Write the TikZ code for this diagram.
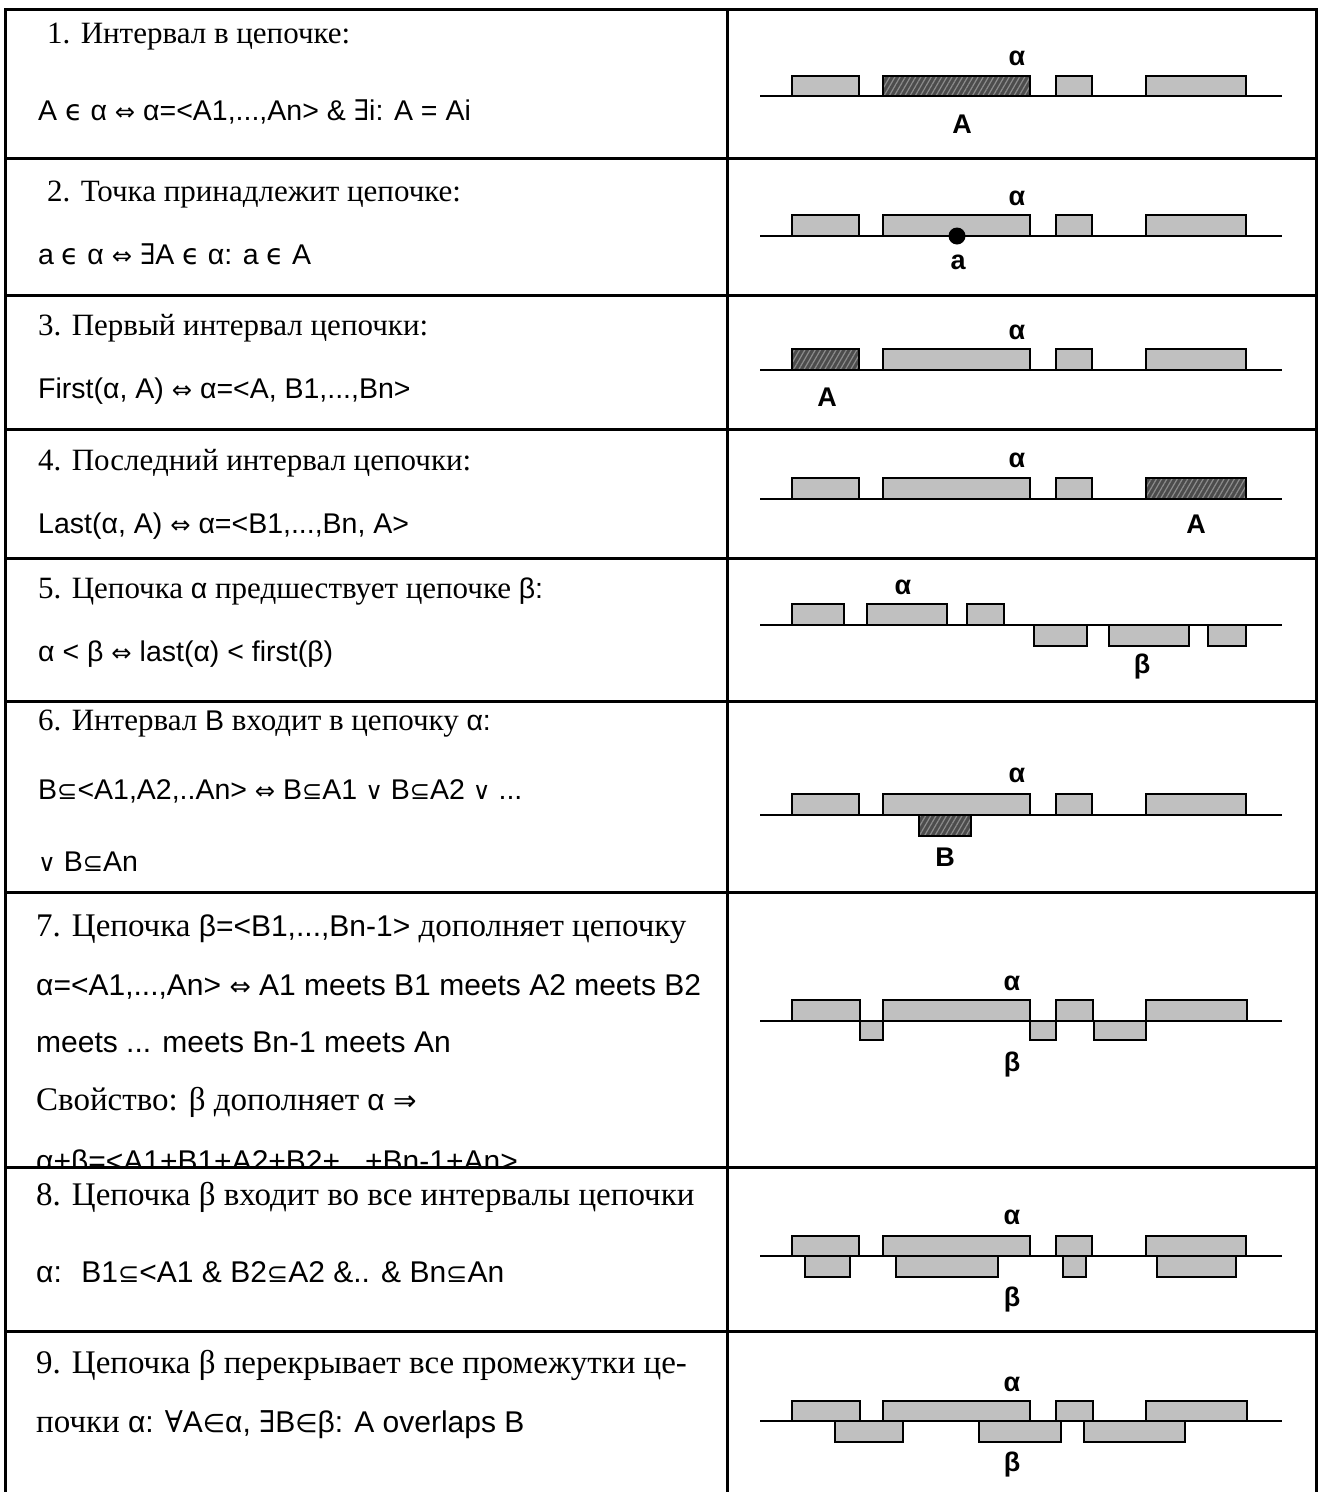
\documentclass[tikz,border=0pt]{standalone}
\usepackage{fontspec}
\setmainfont{Liberation Serif}
\setsansfont{Liberation Sans}
\newfontfamily\symf{DejaVu Sans}[Scale=0.85]
\newfontfamily\symfull{DejaVu Sans}
\newfontfamily\symserif{DejaVu Serif}
\usetikzlibrary{patterns.meta}
\newcommand\RMS{\rmfamily\fontsize{31}{37}\selectfont}
\newcommand\RMB{\rmfamily\fontsize{33}{39}\selectfont}
\newcommand\SF[1]{{\sffamily\fontsize{28.5}{34}\selectfont #1}}
\newcommand\SFB[1]{{\sffamily\fontsize{30}{36}\selectfont #1}}
\newcommand\SY[1]{{\symf #1}}
\newcommand\SYE[1]{{\symfull #1}}
\newcommand\SYS[1]{{\symserif #1}}
\newcommand\LBF{\sffamily\bfseries\fontsize{27}{30}\selectfont}
\definecolor{barfill}{HTML}{C0C0C0}
\tikzset{
  tline/.style={line width=3pt, line cap=rect},
  bar/.style={draw=black, line width=1.6pt, fill=barfill},
  hbar/.style={draw=black, line width=1.6pt, preaction={fill=black!70},
    pattern={Lines[angle=60,distance=4.5pt,line width=1.2pt]}, pattern color=black!45},
  baseln/.style={line width=2.6pt},
  tx/.style={anchor=base west, inner sep=0pt, font=\RMS},
  txb/.style={anchor=base west, inner sep=0pt, font=\RMB},
  lbl/.style={inner sep=0pt, font=\LBF},
}
\begin{document}
\begin{tikzpicture}[x=1pt,y=-1pt]
\useasboundingbox (0,0) rectangle (1318,1492);
\fill[white] (0,0) rectangle (1318,1492);

% ---------- left column texts ----------
\node[tx] (t1a) at (47,43) {1. Интервал в цепочке:};
\node[tx] (t1b) at (38,120) {\SF{A \SYE{ϵ} α \SY{⇔} α=<A1,...,An> \& \SYS{∃}i: A = Ai}};

\node[tx] (t2a) at (47,201) {2. Точка принадлежит цепочке:};
\node[tx] (t2b) at (38,264) {\SF{a \SYE{ϵ} α \SY{⇔} \SYS{∃}A \SYE{ϵ} α: a \SYE{ϵ} A}};

\node[tx] (t3a) at (38,335) {3. Первый интервал цепочки:};
\node[tx] (t3b) at (38,398) {\SF{First(α, A) \SY{⇔} α=<A, B1,...,Bn>}};

\node[tx] (t4a) at (38,470) {4. Последний интервал цепочки:};
\node[tx] (t4b) at (38,533) {\SF{Last(α, A) \SY{⇔} α=<B1,...,Bn, A>}};

\node[tx] (t5a) at (38,598) {5. Цепочка \SF{α} предшествует цепочке \SF{β:}};
\node[tx] (t5b) at (38,661) {\SF{α < β \SY{⇔} last(α) < first(β)}};

\node[tx] (t6a) at (38,730) {6. Интервал \SF{B} входит в цепочку \SF{α:}};
\node[tx] (t6b) at (38,799) {\SF{B\SY{⊆}<A1,A2,..An> \SY{⇔} B\SY{⊆}A1 \SY{∨} B\SY{⊆}A2 \SY{∨} ...}};
\node[tx] (t6c) at (38,871) {\SF{\SY{∨} B\SY{⊆}An}};

\node[txb] (t7a) at (36,936) {7. Цепочка \SFB{β=<B1,...,Bn-1>} дополняет цепочку};
\node[txb] (t7b) at (36,995) {\SFB{α=<A1,...,An> \SY{⇔} A1 meets B1 meets A2 meets B2}};
\node[txb] (t7c) at (36,1052) {\SFB{meets ... meets Bn-1 meets An}};
\node[txb] (t7d) at (36,1110) {Свойство: β дополняет \SFB{α} \SY{⇒}};
\begin{scope}
\clip (5,1100) rectangle (727,1166);
\node[txb] (t7e) at (36,1171) {\SFB{α+β=<A1+B1+A2+B2+...+Bn-1+An>}};
\end{scope}

\node[txb] (t8a) at (36,1205) {8. Цепочка β входит во все интервалы цепочки};
\node[txb] (t8b) at (36,1282) {\SFB{α:~ B1\SY{⊆}<A1 \& B2\SY{⊆}A2 \&.. \& Bn\SY{⊆}An}};

\node[txb] (t9a) at (36,1373) {9. Цепочка β перекрывает все промежутки це-};
\node[txb] (t9b) at (36,1432) {почки \SFB{α: \SYS{∀}A\SY{∈}α, \SYS{∃}B\SY{∈}β: A overlaps B}};

% ---------- right column diagrams ----------
% Row 1
\draw[bar] (792,76) rectangle (859,96);
\draw[hbar] (883,76) rectangle (1030,96);
\draw[bar] (1056,76) rectangle (1092,96);
\draw[bar] (1146,76) rectangle (1246,96);
\draw[baseln] (760,96) -- (1282,96);
\node[lbl] (r1al) at (1017,58) {α};
\node[lbl] (r1A) at (962,124) {A};

% Row 2
\foreach \a/\c in {792/859,883/1030,1056/1092,1146/1246}
  \draw[bar] (\a,215) rectangle (\c,236);
\draw[baseln] (760,236) -- (1282,236);
\fill (957,236) circle (8.5);
\node[lbl] (r2al) at (1017,198) {α};
\node[lbl] (r2a) at (958,262) {a};

% Row 3
\draw[hbar] (792,349) rectangle (859,370);
\foreach \a/\c in {883/1030,1056/1092,1146/1246}
  \draw[bar] (\a,349) rectangle (\c,370);
\draw[baseln] (760,370) -- (1282,370);
\node[lbl] (r3al) at (1017,332) {α};
\node[lbl] (r3A) at (827,397) {A};

% Row 4
\foreach \a/\c in {792/859,883/1030,1056/1092}
  \draw[bar] (\a,478) rectangle (\c,499);
\draw[hbar] (1146,478) rectangle (1246,499);
\draw[baseln] (760,499) -- (1282,499);
\node[lbl] (r4al) at (1017,460) {α};
\node[lbl] (r4A) at (1196,524) {A};

% Row 5
\foreach \a/\c in {792/844,867/947,967/1004}
  \draw[bar] (\a,604) rectangle (\c,625);
\foreach \a/\c in {1034/1087,1109/1189,1208/1246}
  \draw[bar] (\a,625) rectangle (\c,646);
\draw[baseln] (760,625) -- (1282,625);
\node[lbl] (r5al) at (903,587) {α};
\node[lbl] (r5be) at (1142,667) {β};

% Row 6
\foreach \a/\c in {792/859,883/1030,1056/1092,1146/1246}
  \draw[bar] (\a,794) rectangle (\c,815);
\draw[hbar] (919,815) rectangle (971,836);
\draw[baseln] (760,815) -- (1282,815);
\node[lbl] (r6al) at (1017,775) {α};
\node[lbl] (r6B) at (945,857) {B};

% Row 7
\foreach \a/\c in {792/860,883/1030,1056/1093,1146/1247}
  \draw[bar] (\a,1000) rectangle (\c,1021);
\foreach \a/\c in {860/883,1030/1056,1094/1146}
  \draw[bar] (\a,1021) rectangle (\c,1040);
\draw[baseln] (760,1021) -- (1282,1021);
\node[lbl] (r7al) at (1012,983) {α};
\node[lbl] (r7be) at (1012,1065) {β};

% Row 8
\foreach \a/\c in {792/859,883/1030,1056/1092,1146/1246}
  \draw[bar] (\a,1236) rectangle (\c,1256);
\foreach \a/\c in {805/850,896/998,1063/1086,1157/1236}
  \draw[bar] (\a,1256) rectangle (\c,1277);
\draw[baseln] (760,1256) -- (1282,1256);
\node[lbl] (r8al) at (1012,1217) {α};
\node[lbl] (r8be) at (1012,1300) {β};

% Row 9
\foreach \a/\c in {792/860,883/1030,1056/1093,1146/1247}
  \draw[bar] (\a,1401) rectangle (\c,1421);
\foreach \a/\c in {835/903,979/1061,1084/1185}
  \draw[bar] (\a,1421) rectangle (\c,1442);
\draw[baseln] (760,1421) -- (1282,1421);
\node[lbl] (r9al) at (1012,1384) {α};
\node[lbl] (r9be) at (1012,1465) {β};

% ---------- table lines ----------
\foreach \yy in {9,158,295,429,558,701,892,1167,1331}
  \draw[tline] (5,\yy) -- (1316,\yy);
\draw[tline] (5,9) -- (5,1492);
\draw[tline] (727,9) -- (727,1492);
\draw[tline] (1316,9) -- (1316,1492);
\end{tikzpicture}
\end{document}
